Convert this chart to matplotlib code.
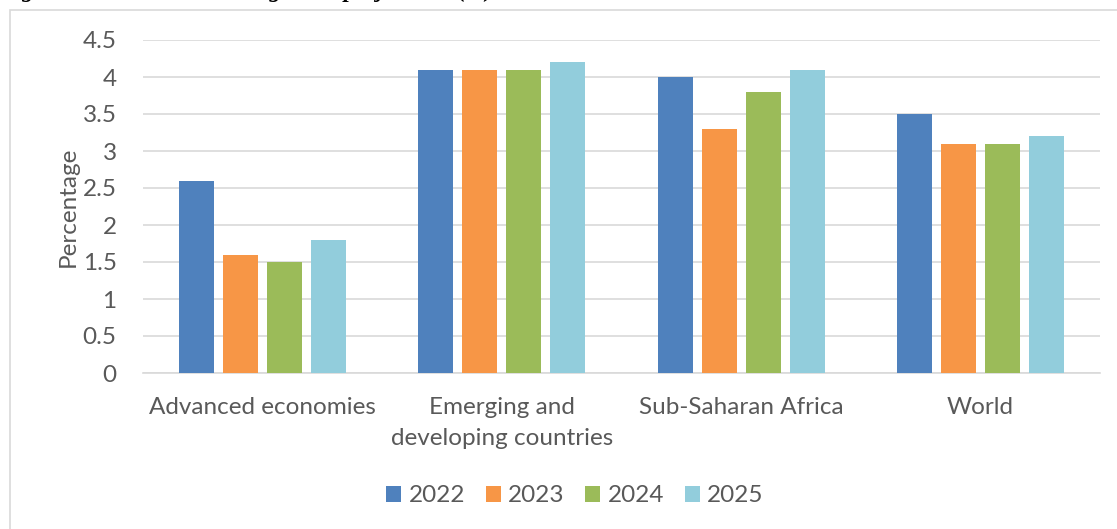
import matplotlib.pyplot as plt
import numpy as np
from matplotlib.patches import Rectangle

plt.rcParams['font.family'] = ['Lato', 'DejaVu Sans']

regions = ["Advanced economies", "Emerging and\ndeveloping countries",
           "Sub-Saharan Africa", "World"]
years = ["2022", "2023", "2024", "2025"]
growth_2022 = [2.6, 4.1, 4.0, 3.5]
growth_2023 = [1.6, 4.1, 3.3, 3.1]
growth_2024 = [1.5, 4.1, 3.8, 3.1]
growth_2025 = [1.8, 4.2, 4.1, 3.2]
series = [growth_2022, growth_2023, growth_2024, growth_2025]
colors = ["#4F81BD", "#F79646", "#9BBB59", "#92CDDC"]
text_color = "#595959"
fs = 17.5

W, H = 1117, 529
fig = plt.figure(figsize=(W / 100, H / 100), dpi=100)

# chart frame
fig.patches.append(Rectangle((10 / W, -0.1), 1.2, (H - 10) / H + 0.1,
                             transform=fig.transFigure, fill=False,
                             edgecolor="#D9D9D9", linewidth=1.2))

# figure caption, sitting just above the top edge
fig.text(0 / W, 1.0 + 3 / H, "Figure 1: Global economic growth projections (%)",
         fontsize=17, fontstyle="italic", fontweight="bold",
         family=["Liberation Serif"], va="baseline", ha="left")

ax = fig.add_axes([143 / W, 1 - 373 / H, (1100 - 143) / W, (373 - 40) / H])

x = np.arange(len(regions))
step = 0.184
width = 0.146
for i, (vals, yr, c) in enumerate(zip(series, years, colors)):
    ax.bar(x + (i - 1.5) * step, vals, width, color=c, label=yr, zorder=3)

ax.set_xlim(-0.5, len(regions) - 0.5)
ax.set_ylim(0, 4.5)
ax.set_yticks(np.arange(0, 4.51, 0.5))
ax.set_yticklabels(["0", "0.5", "1", "1.5", "2", "2.5", "3", "3.5", "4", "4.5"])
ax.set_xticks(x)
ax.set_xticklabels(regions, linespacing=1.6)
ax.tick_params(axis="both", length=0, labelsize=fs, colors=text_color)
ax.tick_params(axis="x", pad=17)
ax.tick_params(axis="y", pad=19)
ax.grid(axis="y", color="#D9D9D9", linewidth=1.2, zorder=0)
for s in ["top", "right", "left"]:
    ax.spines[s].set_visible(False)
ax.spines["bottom"].set_color("#D9D9D9")
ax.spines["bottom"].set_linewidth(1.2)

ax.set_ylabel("Percentage", fontsize=fs, color=text_color, labelpad=3)

ax.legend(loc="center", bbox_to_anchor=(575 / W, 1 - 496 / H),
          bbox_transform=fig.transFigure, ncol=4, frameon=False,
          fontsize=fs, labelcolor=text_color, handlelength=0.62,
          handleheight=0.62, handletextpad=0.3, columnspacing=0.85)

fig.savefig("out.png", dpi=100)
